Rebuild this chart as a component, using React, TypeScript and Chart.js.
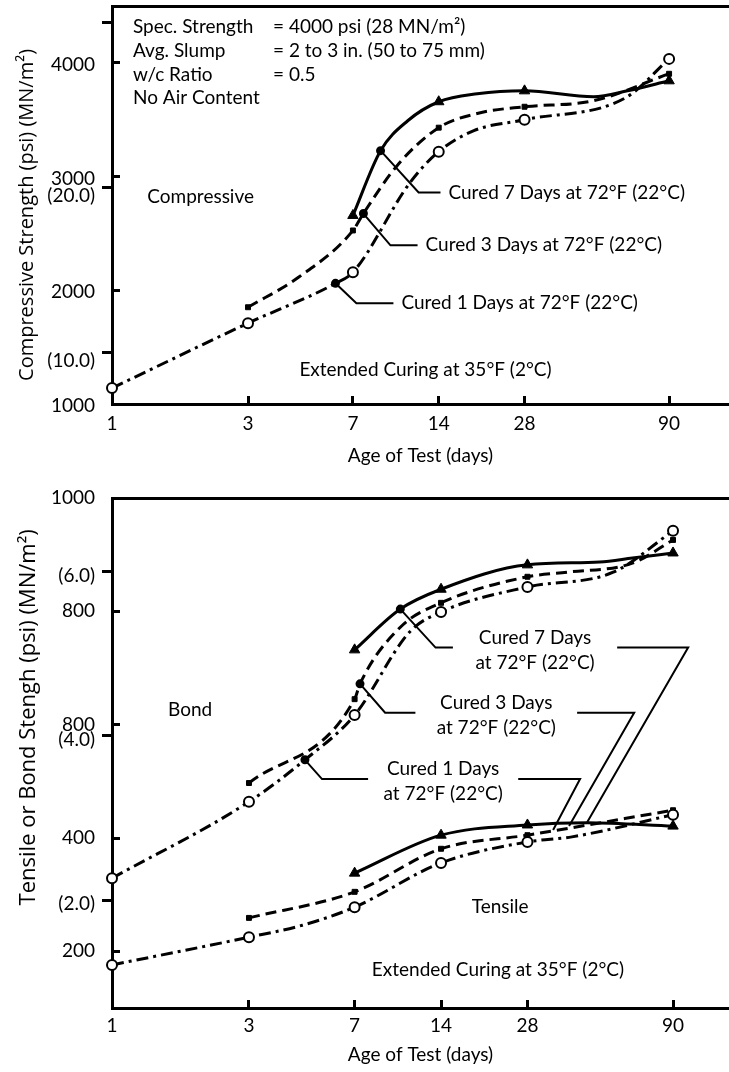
import React, { useEffect, useRef } from 'react';
import { Chart, registerables } from 'chart.js';

Chart.register(...registerables);

const FONT = 'Lato';
const TITLE_FONT = 'Open Sans';
const PSI_TO_MPA = 0.00689476;

// ---------- shared x axis ----------
const TEST_DAYS = [1, 3, 7, 14, 28, 90];
const X_TICK_LABELS = ['1', '3', '7', '14', '28', '90'];

// ---------- compressive chart data (psi) ----------
const compExtDays = [1, 3, 6.08, 7, 11.1, 14, 18.6, 28, 63.3, 90];
const compExtPsi = [1140, 1711, 2061, 2158, 2947, 3219, 3404, 3500, 3693, 4035];
const comp3Days = [3, 4.51, 7, 7.62, 10.0, 14, 19.6, 28, 48.9, 90];
const comp3Psi = [1851, 2114, 2526, 2675, 3096, 3430, 3561, 3614, 3667, 3904];
const comp7Days = [7, 8.75, 10.9, 14, 19.1, 28, 48.9, 64.3, 90];
const comp7Psi = [2658, 3228, 3491, 3658, 3728, 3754, 3702, 3754, 3842];

const COMP_PSI_TICKS = [1000, 2000, 3000, 4000];
const COMP_PSI_LABELS = ['1000', '2000', '3000', '4000'];
const COMP_MPA_TICKS = [10, 20, 30];
const COMP_MPA_LABELS = ['(10.0)', '(20.0)', ''];

// ---------- bond / tensile chart data (psi) ----------
const bondExtDays = [1, 3, 4.7, 7, 10.9, 14, 28, 55.7, 90];
const bondExtPsi = [329, 464, 538, 617, 764, 799, 843, 869, 942];
const bond3Days = [3, 7, 7.31, 10.1, 14, 28, 38.5, 65, 90];
const bond3Psi = [497, 645, 672, 772, 815, 861, 869, 885, 926];
const bond7Days = [7, 10.1, 14, 28, 50, 65, 90];
const bond7Psi = [732, 804, 839, 882, 887, 894, 903];

const tensExtDays = [1, 3, 4.6, 7, 14, 28, 40, 90];
const tensExtPsi = [176, 225, 246, 278, 356, 393, 402, 441];
const tens3Days = [3, 7, 14, 28, 90];
const tens3Psi = [259, 305, 381, 405, 449];
const tens7Days = [7, 14, 28, 45.2, 90];
const tens7Psi = [338, 405, 423, 427, 421];

const BT_PSI_TICKS = [200, 400, 600, 800, 1000];
const BT_PSI_LABELS = ['200', '400', '800', '800', '1000'];
const BT_MPA_TICKS = [2, 4, 6];
const BT_MPA_LABELS = ['(2.0)', '(4.0)', '(6.0)'];

// ---------- annotations (data units: [day, psi]) ----------
const INFO_LEFT = ['Spec. Strength', 'Avg. Slump', 'w/c Ratio', 'No Air Content'];
const INFO_RIGHT = ['= 4000 psi (28 MN/m²)', '= 2 to 3 in. (50 to 75 mm)', '= 0.5', ''];

const TOP_POINTERS = [
  { label: 'Cured 7 Days at 72°F (22°C)', pts: [[8.75, 3228], [11.9, 2860], [14.2, 2860]] },
  { label: 'Cured 3 Days at 72°F (22°C)', pts: [[7.62, 2675], [9.48, 2395], [11.8, 2395]] },
  { label: 'Cured 1 Days at 72°F (22°C)', pts: [[6.08, 2061], [7.2, 1886], [9.71, 1886]] },
];

const BOT_POINTERS = [
  {
    label: ['Cured 7 Days', 'at 72°F (22°C)'],
    left: [[10.1, 804], [13.4, 736], [15.4, 736]],
    right: [[57.5, 736], [101.6, 736], [45.2, 428]],
  },
  {
    label: ['Cured 3 Days', 'at 72°F (22°C)'],
    left: [[7.31, 672], [8.94, 621], [11.4, 621]],
    right: [[41.7, 621], [65.9, 621], [39.1, 421]],
  },
  {
    label: ['Cured 1 Days', 'at 72°F (22°C)'],
    left: [[4.7, 538], [5.39, 504], [7.8, 504]],
    right: [[26.0, 504], [42.7, 504], [34.4, 414]],
  },
];

const pts = (days: number[], vals: number[]) => days.map((d, i) => ({ x: d, y: vals[i] }));
const arr = (p: number[][]) => p.map(([x, y]) => ({ x, y }));
const isTest = (c: any) => c.raw && TEST_DAYS.includes(c.raw.x);

function series(label: string, data: any[], kind: 'ext' | 'c3' | 'c7') {
  const base: any = {
    label,
    data,
    borderColor: '#000',
    borderWidth: 3,
    cubicInterpolationMode: 'monotone',
    fill: false,
    clip: false,
    pointBorderColor: '#000',
  };
  if (kind === 'ext') {
    return {
      ...base,
      borderDash: [12, 5, 3, 5],
      pointStyle: 'circle',
      pointRadius: (c: any) => (isTest(c) ? 5 : 0),
      pointBackgroundColor: '#fff',
      pointBorderWidth: 2,
    };
  }
  if (kind === 'c3') {
    return {
      ...base,
      borderDash: [11, 6],
      pointStyle: 'rect',
      pointRadius: (c: any) => (isTest(c) ? 3.5 : 0),
      pointBackgroundColor: '#000',
      pointBorderWidth: 1,
    };
  }
  return {
    ...base,
    pointStyle: 'triangle',
    pointRadius: (c: any) => (isTest(c) ? 6 : 0),
    pointBackgroundColor: '#000',
    pointBorderWidth: 1,
  };
}

function pointerDS(p: number[][], withDot: boolean) {
  return {
    data: arr(p),
    borderColor: '#000',
    borderWidth: 2,
    tension: 0,
    clip: false,
    pointRadius: (c: any) => (withDot && c.dataIndex === 0 ? 3.5 : 0),
    pointBackgroundColor: '#000',
    pointBorderColor: '#000',
  };
}

// remove Chart.js' automatic label-overflow padding so the plot box sits where we put it
function noAutoPad(s: any) {
  s.paddingTop = 0;
  s.paddingBottom = 0;
  s.paddingLeft = 0;
  s.paddingRight = 0;
}

function axes(opts: {
  xMax: number;
  yMin: number;
  yMax: number;
  psiTicks: number[];
  psiLabels: string[];
  psiLabelOffset: number;
  mpaTicks: number[];
  mpaLabels: string[];
  mpaLabelOffset: number;
  xHeight: number;
  xLabelPad: number;
  xTitlePad: number;
}) {
  const tickFont = { family: FONT, size: 19 };
  return {
    x: {
      type: 'logarithmic',
      position: 'bottom',
      min: 1,
      max: opts.xMax,
      afterBuildTicks: (s: any) => {
        s.ticks = TEST_DAYS.map((v) => ({ value: v }));
      },
      afterFit: (s: any) => {
        s.height = opts.xHeight;
        noAutoPad(s);
      },
      ticks: {
        autoSkip: false,
        maxRotation: 0,
        font: tickFont,
        color: '#000',
        padding: opts.xLabelPad,
        callback: (_v: any, i: number) => X_TICK_LABELS[i],
      },
      grid: {
        display: true,
        drawOnChartArea: false,
        drawTicks: true,
        tickLength: -8,
        tickWidth: 3,
        lineWidth: 3,
        tickColor: '#000',
      },
      border: { display: true, width: 3, color: '#000' },
      title: {
        display: true,
        text: 'Age of Test (days)',
        font: { family: FONT, size: 19 },
        color: '#000',
        padding: { top: 0, bottom: opts.xTitlePad },
      },
    },
    xTop: {
      type: 'linear',
      position: 'top',
      min: 0,
      max: 1,
      afterFit: (s: any) => {
        s.height = 0;
        noAutoPad(s);
      },
      ticks: { display: false },
      grid: { display: false },
      border: { display: true, width: 3, color: '#000' },
    },
    y: {
      type: 'linear',
      position: 'left',
      weight: 1,
      min: opts.yMin,
      max: opts.yMax,
      afterBuildTicks: (s: any) => {
        s.ticks = opts.psiTicks.map((v) => ({ value: v }));
      },
      afterFit: (s: any) => {
        s.width = 112;
        noAutoPad(s);
      },
      ticks: {
        autoSkip: false,
        font: tickFont,
        color: '#000',
        padding: 25,
        labelOffset: opts.psiLabelOffset,
        callback: (_v: any, i: number) => opts.psiLabels[i],
      },
      grid: {
        display: true,
        drawOnChartArea: false,
        drawTicks: true,
        tickLength: -8,
        tickWidth: 3,
        lineWidth: 3,
        tickColor: '#000',
      },
      border: { display: true, width: 3, color: '#000' },
    },
    yM: {
      type: 'linear',
      position: 'left',
      weight: 0,
      min: opts.yMin * PSI_TO_MPA,
      max: opts.yMax * PSI_TO_MPA,
      afterBuildTicks: (s: any) => {
        s.ticks = opts.mpaTicks.map((v) => ({ value: v }));
      },
      afterFit: (s: any) => {
        s.width = 0;
        noAutoPad(s);
        // zero-width axis: let its labels draw outside its own box
        s._computeLabelArea = () => undefined;
      },
      ticks: {
        autoSkip: false,
        font: tickFont,
        color: '#000',
        padding: 7,
        labelOffset: opts.mpaLabelOffset,
        callback: (_v: any, i: number) => opts.mpaLabels[i],
      },
      grid: {
        display: true,
        drawOnChartArea: false,
        drawTicks: true,
        tickLength: 10,
        tickWidth: 3,
        lineWidth: 3,
        tickColor: '#000',
      },
      border: { display: false },
    },
  };
}

function drawYTitle(chart: any, text: string, size: number, cx: number, cyFrac: number) {
  const { ctx, chartArea } = chart;
  const cy = chartArea.top + (chartArea.bottom - chartArea.top) * cyFrac;
  ctx.save();
  ctx.translate(cx, cy);
  ctx.rotate(-Math.PI / 2);
  ctx.fillStyle = '#000';
  ctx.font = `${size}px "${TITLE_FONT}"`;
  ctx.textAlign = 'center';
  ctx.textBaseline = 'middle';
  ctx.fillText(text, 0, 0);
  ctx.restore();
}

const topTexts = {
  id: 'topTexts',
  afterDraw(chart: any) {
    const { ctx, chartArea, scales } = chart;
    const x = scales.x;
    const y = scales.y;
    drawYTitle(chart, 'Compressive Strength (psi) (MN/m²)', 20, 27, 0.525);
    ctx.save();
    ctx.fillStyle = '#000';
    ctx.font = `19px ${FONT}`;
    ctx.textBaseline = 'middle';
    ctx.textAlign = 'left';
    INFO_LEFT.forEach((t, i) => {
      const yy = chartArea.top + 21 + i * 23.7;
      ctx.fillText(t, chartArea.left + 21, yy);
      if (INFO_RIGHT[i]) ctx.fillText(INFO_RIGHT[i], chartArea.left + 161, yy);
    });
    ctx.fillText('Compressive', x.getPixelForValue(1.33), y.getPixelForValue(2825));
    TOP_POINTERS.forEach((p) => {
      const e = p.pts[p.pts.length - 1];
      ctx.fillText(p.label, x.getPixelForValue(e[0]) + 8, y.getPixelForValue(e[1]));
    });
    ctx.textAlign = 'center';
    ctx.fillText('Extended Curing at 35°F (2°C)', x.getPixelForValue(12.58), y.getPixelForValue(1298));
    ctx.restore();
  },
};

const botTexts = {
  id: 'botTexts',
  afterDraw(chart: any) {
    const { ctx, scales } = chart;
    const x = scales.x;
    const y = scales.y;
    drawYTitle(chart, 'Tensile or Bond Stengh (psi) (MN/m²)', 22, 29, 0.43);
    ctx.save();
    ctx.fillStyle = '#000';
    ctx.font = `19px ${FONT}`;
    ctx.textBaseline = 'middle';
    ctx.textAlign = 'left';
    ctx.fillText('Bond', x.getPixelForValue(1.567), y.getPixelForValue(626));
    ctx.textAlign = 'center';
    ctx.fillText('Tensile', x.getPixelForValue(22.5), y.getPixelForValue(278));
    ctx.fillText('Extended Curing at 35°F (2°C)', x.getPixelForValue(22.1), y.getPixelForValue(167));
    BOT_POINTERS.forEach((p) => {
      const le = p.left[p.left.length - 1];
      const rs = p.right[0];
      const cx = (x.getPixelForValue(le[0]) + x.getPixelForValue(rs[0])) / 2;
      const ly = y.getPixelForValue(le[1]);
      ctx.fillText(p.label[0], cx, ly - 10);
      ctx.fillText(p.label[1], cx, ly + 15);
    });
    ctx.restore();
  },
};

function baseOptions(padTop: number) {
  return {
    responsive: false,
    animation: false,
    devicePixelRatio: 1,
    events: [],
    layout: { autoPadding: false, padding: { top: padTop, left: 0, right: 0, bottom: 0 } },
    plugins: { legend: { display: false }, tooltip: { enabled: false } },
  };
}

function topConfig(): any {
  return {
    type: 'line',
    data: {
      datasets: [
        series('Extended curing / Cured 1 day', pts(compExtDays, compExtPsi), 'ext'),
        series('Cured 3 days', pts(comp3Days, comp3Psi), 'c3'),
        series('Cured 7 days', pts(comp7Days, comp7Psi), 'c7'),
        ...TOP_POINTERS.map((p) => pointerDS(p.pts, true)),
      ],
    },
    options: {
      ...baseOptions(6),
      scales: axes({
        xMax: 146,
        yMin: 1000,
        yMax: 4500,
        psiTicks: COMP_PSI_TICKS,
        psiLabels: COMP_PSI_LABELS,
        psiLabelOffset: 2,
        mpaTicks: COMP_MPA_TICKS,
        mpaLabels: COMP_MPA_LABELS,
        mpaLabelOffset: 8,
        xHeight: 71,
        xLabelPad: 16,
        xTitlePad: 8,
      }),
    },
    plugins: [topTexts],
  };
}

function botConfig(): any {
  return {
    type: 'line',
    data: {
      datasets: [
        series('Bond extended', pts(bondExtDays, bondExtPsi), 'ext'),
        series('Bond cured 3 days', pts(bond3Days, bond3Psi), 'c3'),
        series('Bond cured 7 days', pts(bond7Days, bond7Psi), 'c7'),
        series('Tensile extended', pts(tensExtDays, tensExtPsi), 'ext'),
        series('Tensile cured 3 days', pts(tens3Days, tens3Psi), 'c3'),
        series('Tensile cured 7 days', pts(tens7Days, tens7Psi), 'c7'),
        ...BOT_POINTERS.map((p) => pointerDS(p.left, true)),
        ...BOT_POINTERS.map((p) => pointerDS(p.right, false)),
      ],
    },
    options: {
      ...baseOptions(23),
      scales: axes({
        xMax: 141,
        yMin: 100,
        yMax: 1000,
        psiTicks: BT_PSI_TICKS,
        psiLabels: BT_PSI_LABELS,
        psiLabelOffset: 0,
        mpaTicks: BT_MPA_TICKS,
        mpaLabels: BT_MPA_LABELS,
        mpaLabelOffset: 4,
        xHeight: 64,
        xLabelPad: 14,
        xTitlePad: 6,
      }),
    },
    plugins: [botTexts],
  };
}

export default function App() {
  const topRef = useRef<HTMLCanvasElement | null>(null);
  const botRef = useRef<HTMLCanvasElement | null>(null);

  useEffect(() => {
    document.body.style.margin = '0';
    document.body.style.background = '#fff';
    const charts: Chart[] = [];
    if (topRef.current) charts.push(new Chart(topRef.current, topConfig()));
    if (botRef.current) charts.push(new Chart(botRef.current, botConfig()));
    let alive = true;
    const fonts = (document as any).fonts;
    if (fonts && fonts.load) {
      Promise.all([fonts.load(`19px ${FONT}`), fonts.load(`20px "${TITLE_FONT}"`)])
        .then(() => {
          if (alive) charts.forEach((c) => c.update('none'));
        })
        .catch(() => {});
    }
    return () => {
      alive = false;
      charts.forEach((c) => c.destroy());
    };
  }, []);

  return (
    <div style={{ position: 'relative', width: 729, height: 1072, background: '#fff' }}>
      <canvas ref={topRef} width={729} height={475} style={{ display: 'block', width: 729, height: 475 }} />
      <canvas ref={botRef} width={729} height={597} style={{ display: 'block', width: 729, height: 597 }} />
    </div>
  );
}
